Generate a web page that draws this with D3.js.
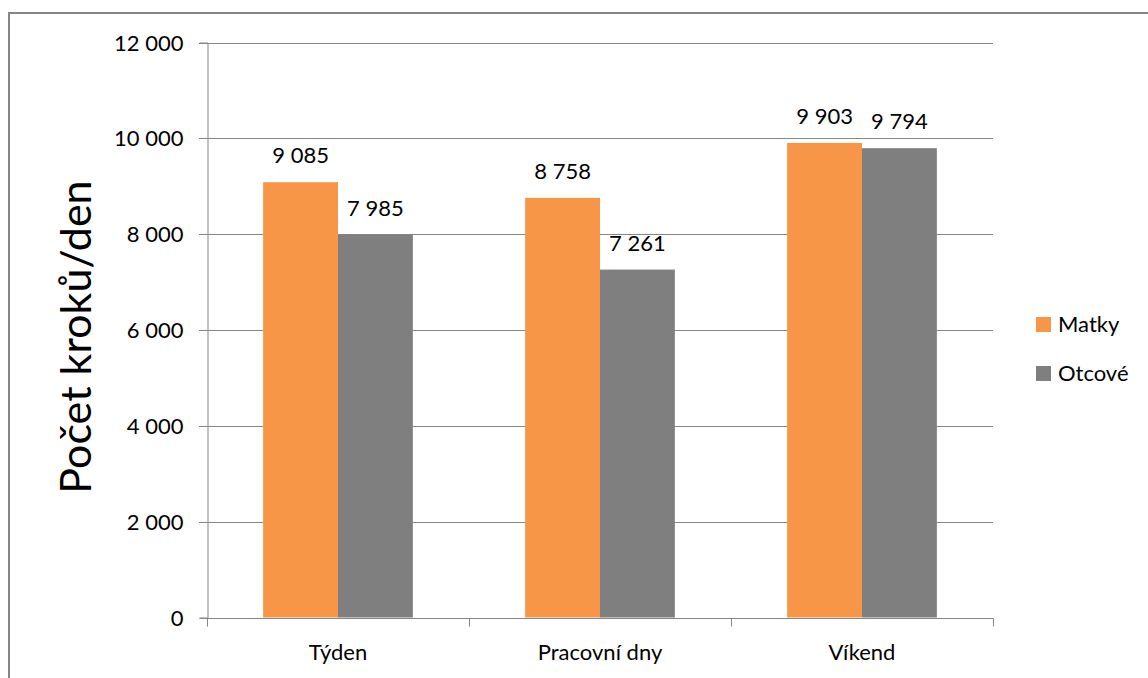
<!DOCTYPE html>
<html>
<head>
<meta charset="utf-8">
<script src="https://cdn.jsdelivr.net/npm/d3@7/dist/d3.min.js"></script>
<style>
  html, body { margin: 0; padding: 0; background: #fff; }
  svg { display: block; font-family: Lato, "Open Sans", sans-serif; }
</style>
</head>
<body>
<svg id="chart" width="1148" height="678"></svg>
<script>
// Average daily steps by period and parent group
const categories = ["Týden", "Pracovní dny", "Víkend"];
const seriesNames = ["Matky", "Otcové"];
const matky = [9085, 8758, 9903];
const otcove = [7985, 7261, 9794];
const yTicks = [0, 2000, 4000, 6000, 8000, 10000, 12000];
const colors = ["#F79646", "#7F7F7F"];
const yTitle = "Počet kroků/den";

const values = [matky, otcove];
const FONT = "Lato, 'Open Sans', sans-serif";

const svg = d3.select("#chart");

// outer frame (only top and left edges fall inside the view)
svg.append("rect")
  .attr("x", 9).attr("y", 13)
  .attr("width", 1200).attr("height", 700)
  .attr("fill", "none").attr("stroke", "#868686").attr("stroke-width", 2);

const plot = { left: 207, right: 993, top: 42.5, bottom: 617.5 };

const x = d3.scaleBand().domain(categories).range([plot.left, plot.right]).paddingInner(0).paddingOuter(0);
const xs = d3.scaleBand().domain(seriesNames).range([0, x.bandwidth()]).paddingInner(0).paddingOuter(0.75);
const y = d3.scaleLinear().domain([0, 12000]).range([plot.bottom, plot.top]);

const fmt = v => d3.format(",")(v).replace(/,/g, " ");

// horizontal gridlines
svg.append("g")
  .selectAll("line")
  .data(yTicks.filter(t => t > 0))
  .join("line")
  .attr("x1", plot.left - 8).attr("x2", plot.right)
  .attr("y1", d => Math.round(y(d)) + 0.5).attr("y2", d => Math.round(y(d)) + 0.5)
  .attr("stroke", "#868686").attr("stroke-width", 1);

// y axis
const yAxis = svg.append("g")
  .attr("transform", `translate(${plot.left + 0.5},0)`)
  .call(d3.axisLeft(y).tickValues(yTicks).tickFormat(fmt).tickSize(8).tickPadding(16));
yAxis.select(".domain").attr("stroke", "#868686");
yAxis.selectAll(".tick line").attr("stroke", "#868686");
yAxis.selectAll(".tick").attr("transform", d => `translate(0,${Math.round(y(d)) + 0.5})`);
yAxis.selectAll("text").attr("font-size", 22).attr("fill", "#000").attr("font-family", FONT);

// bars
const groups = svg.append("g")
  .selectAll("g")
  .data(categories)
  .join("g")
  .attr("transform", d => `translate(${x(d)},0)`);

groups.selectAll("rect")
  .data((c, i) => seriesNames.map((s, j) => ({ s, v: values[j][i], j })))
  .join("rect")
  .attr("x", d => xs(d.s))
  .attr("width", xs.bandwidth())
  .attr("y", d => y(d.v))
  .attr("height", d => y(0) - y(d.v))
  .attr("fill", d => colors[d.j]);

// value labels
groups.selectAll("text")
  .data((c, i) => seriesNames.map((s, j) => ({ s, v: values[j][i], j })))
  .join("text")
  .attr("x", d => xs(d.s) + xs.bandwidth() / 2)
  .attr("y", d => y(d.v) - 19)
  .attr("text-anchor", "middle")
  .attr("font-size", 22)
  .attr("fill", "#000")
  .text(d => fmt(d.v));

// x axis
const xAxis = svg.append("g")
  .attr("transform", `translate(0,${Math.round(y(0)) + 0.5})`)
  .call(d3.axisBottom(x).tickSize(0).tickPadding(0));
xAxis.select(".domain").remove();
xAxis.append("line")
  .attr("x1", plot.left).attr("x2", plot.right + 0.5)
  .attr("stroke", "#868686");
xAxis.selectAll(".xtick")
  .data(d3.range(categories.length + 1))
  .join("line")
  .attr("class", "xtick")
  .attr("x1", i => Math.round(plot.left + i * x.step()) + 0.5)
  .attr("x2", i => Math.round(plot.left + i * x.step()) + 0.5)
  .attr("y1", 0).attr("y2", 8)
  .attr("stroke", "#868686");
xAxis.selectAll(".tick text")
  .attr("dy", null)
  .attr("y", 41)
  .attr("font-size", 22).attr("fill", "#000")
  .attr("font-family", FONT);

// y axis title
svg.append("text")
  .attr("transform", `translate(91,337) rotate(-90)`)
  .attr("text-anchor", "middle")
  .attr("font-size", 43)
  .attr("fill", "#000")
  .text(yTitle);

// legend
const legend = svg.append("g")
  .selectAll("g")
  .data(seriesNames)
  .join("g")
  .attr("transform", (d, i) => `translate(1036,${317 + i * 49})`);
legend.append("rect")
  .attr("width", 15).attr("height", 15)
  .attr("fill", (d, i) => colors[i]);
legend.append("text")
  .attr("x", 22).attr("y", 15)
  .attr("font-size", 22)
  .attr("fill", "#000")
  .text(d => d);
</script>
</body>
</html>
